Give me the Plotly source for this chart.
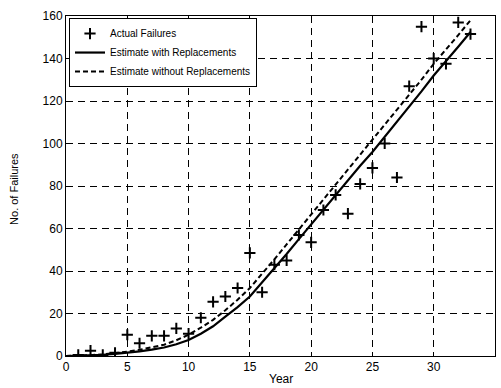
import plotly.graph_objects as go

# Data
years_pts = list(range(1, 34))
actual_failures = [0.5, 2.5, 0.5, 1.5, 10, 6, 9.5, 9.5, 13, 10.5,
                   18, 25.5, 28, 32, 48.5, 30, 43, 45, 57, 53.5,
                   68.7, 75.8, 67, 81, 88.5, 100, 84, 127, 155, 140,
                   137.5, 157, 151.5]

years_est = list(range(0, 34))
est_with_repl = [0, 0.1, 0.3, 0.6, 1.0, 1.5, 2.2, 3.0, 4.0, 5.5, 7.5,
                 10.5, 14, 18.5, 23, 28, 34.5, 41, 48, 55, 62,
                 69, 76, 83, 89.5, 96, 103, 110, 117, 124.5, 132,
                 138.5, 145.5, 152.5]
est_without_repl = [0, 0.1, 0.4, 0.8, 1.3, 2.0, 2.9, 4.0, 5.3, 7.4, 10,
                    13.3, 17, 21.5, 26.5, 32, 38.5, 45.5, 52.5, 59.5, 66.5,
                    73.5, 80.5, 87.5, 94.5, 101.5, 108.5, 115.5, 122.5, 130, 137.5,
                    144, 151, 158]

x_ticks = [0, 5, 10, 15, 20, 25, 30, 35]
y_ticks = [0, 20, 40, 60, 80, 100, 120, 140, 160]

fig = go.Figure()
fig.add_trace(go.Scatter(
    x=years_pts, y=actual_failures, mode="markers", name="Actual Failures",
    marker=dict(symbol="cross-thin", size=8, color="black",
                line=dict(width=2, color="black"))))
fig.add_trace(go.Scatter(
    x=years_est, y=est_with_repl, mode="lines", name="Estimate with Replacements",
    line=dict(color="black", width=2.2)))
fig.add_trace(go.Scatter(
    x=years_est, y=est_without_repl, mode="lines", name="Estimate without Replacements",
    line=dict(color="black", width=2, dash="5px,3px")))

axis_common = dict(
    showline=True, linecolor="black", linewidth=1, mirror=True,
    ticks="inside", ticklen=4, tickcolor="black",
    showgrid=True, gridcolor="black", gridwidth=1, griddash="7px,5px",
    zeroline=False, automargin=False,
    tickfont=dict(family="Liberation Sans, Arial", size=12, color="black"),
)

fig.update_layout(
    width=501, height=388,
    margin=dict(l=66, r=6, t=16, b=32),
    paper_bgcolor="white", plot_bgcolor="white",
    font=dict(family="Liberation Sans, Arial", size=12, color="black"),
    showlegend=True,
    legend=dict(x=0.007, y=0.994, xanchor="left", yanchor="top",
                bgcolor="white", bordercolor="black", borderwidth=1,
                font=dict(size=10), tracegroupgap=0, itemwidth=30),
    xaxis=dict(range=[0, 35], tickvals=x_ticks, **axis_common),
    yaxis=dict(range=[0, 160], tickvals=y_ticks, **axis_common),
    annotations=[
        dict(text="Year", xref="paper", yref="paper", x=0.5, y=-0.068,
             xanchor="center", yanchor="middle", showarrow=False,
             font=dict(size=12)),
        dict(text="No. of Failures", xref="paper", yref="paper", x=-0.12, y=0.49,
             xanchor="center", yanchor="middle", showarrow=False, textangle=-90,
             font=dict(size=11)),
    ],
)

fig.write_html(
    "out.html",
    config={"displayModeBar": False},
    post_script="document.body.style.margin='0';document.body.style.overflow='hidden';",
)
